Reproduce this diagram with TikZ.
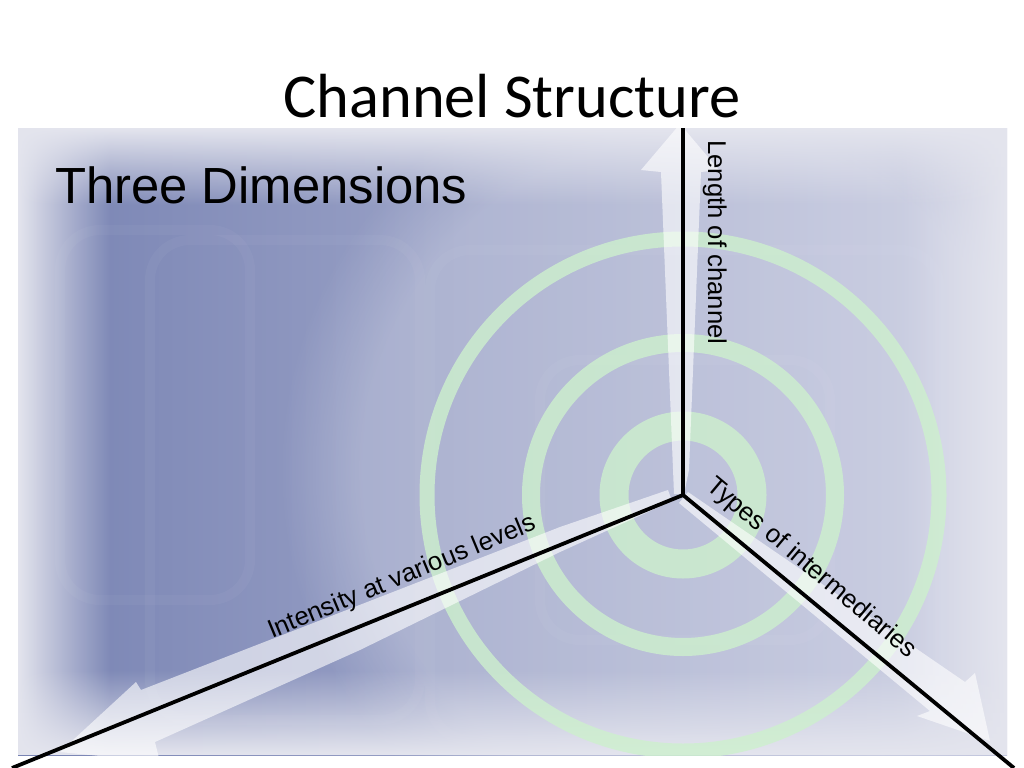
\documentclass[tikz,border=0pt]{standalone}
\usepackage{fontspec}
\setmainfont{Liberation Sans}
\newfontfamily\titlefont{Carlito}
\usetikzlibrary{fadings}
\tikzfading[name=fadeW, left color=transparent!0, right color=transparent!100]
\tikzfading[name=fadeE, left color=transparent!100, right color=transparent!0]
\tikzfading[name=fadeN, top color=transparent!0, bottom color=transparent!100]
\tikzfading[name=fadeS, top color=transparent!100, bottom color=transparent!0]
\definecolor{bgL}{HTML}{7883B3}
\definecolor{bgM}{HTML}{A3AACC}
\definecolor{bgR}{HTML}{C2C6DD}
\definecolor{edgecol}{HTML}{E4E5EE}
\definecolor{ringcol}{RGB}{205,240,205}
\tikzset{
  ring/.style={draw=ringcol, draw opacity=0.8},
  arrowband/.style={fill=white, fill opacity=0.6},
  axisline/.style={line width=3.8bp, black},
  ghost/.style={draw=white, draw opacity=0.035, line width=10bp, rounded corners=40bp},
  lbl/.style={inner sep=0pt, font=\fontsize{25.8}{28}\selectfont}
}
\begin{document}
\begin{tikzpicture}[x=1bp,y=-1bp]
\useasboundingbox (0,0) rectangle (1024,768);
\fill[white] (0,0) rectangle (1024,768);
\begin{scope}
  \clip (18,128) rectangle (1007,755);
  \shade[left color=bgL, middle color=bgM, right color=bgR] (18,128) rectangle (1007,755);
  \fill[white, opacity=0.22, path fading=circle with fuzzy edge 20 percent] (700,470) circle (420);
  % faint background texture
  \draw[ghost] (430,250) rectangle (940,740);
  \draw[ghost] (540,360) rectangle (830,640);
  \draw[ghost] (150,240) rectangle (420,720);
  \draw[ghost] (60,230) rectangle (250,600);
  % edge vignette
  \fill[edgecol, path fading=fadeW] (18,128) rectangle (110,755);
  \fill[edgecol, path fading=fadeE] (900,128) rectangle (1007,755);
  \fill[edgecol, path fading=fadeN] (18,128) rectangle (1007,205);
  \fill[edgecol, path fading=fadeS] (18,670) rectangle (1007,755);
  % concentric rings
  \coordinate (c) at (683,495);
  \draw[ring, line width=29bp] (c) circle (69);
  \draw[ring, line width=18bp] (c) circle (152);
  \draw[ring, line width=15bp] (c) circle (256);
  % light arrows
  \fill[arrowband] (674,494) -- (661,172) -- (641,170) -- (680,124) -- (719,170) -- (701,172) -- (689,470) -- (684,494) -- cycle;
  \fill[arrowband] (668,490) -- (560,527) -- (141,690) -- (136,682) -- (60,752) -- (160,762) -- (155,742) -- (360,650) -- (560,552) -- (672,501) -- cycle;
  \fill[arrowband] (688,492) -- (965,682) -- (975,673) -- (990,741) -- (917,716) -- (930,711) -- (679,503) -- cycle;
\end{scope}
% axes
\coordinate (top) at (683,128);
\coordinate (bl) at (12,768);
\coordinate (br) at (1014,768);
\draw[axisline] (top) -- (c);
\draw[axisline] (c) -- (bl);
\draw[axisline] (c) -- (br);
% texts
\node[anchor=base, inner sep=0pt, font=\titlefont\fontsize{62.6}{70}\selectfont] (title) at (512,117) {Channel Structure};
\node[anchor=base west, inner sep=0pt, font=\fontsize{51}{56}\selectfont] (sub) at (55,203) {Three Dimensions};
\node[lbl, anchor=base west, rotate=-90] (len) at (708,140) {Length of channel};
\node[lbl, anchor=base west, rotate=22.5] (int) at (272,639) {Intensity at various levels};
\node[lbl, anchor=base west, rotate=-40] (typ) at (705,488) {Types of intermediaries};
\end{tikzpicture}
\end{document}
